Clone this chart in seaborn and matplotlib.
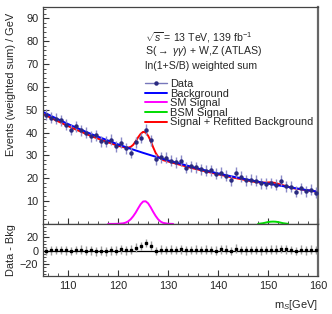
import numpy as np
import matplotlib
matplotlib.use("Agg")
import matplotlib.pyplot as plt
from matplotlib.ticker import MultipleLocator
from matplotlib.lines import Line2D
import seaborn as sns

sns.set_style("ticks")
plt.rcParams['font.family'] = ['Liberation Sans', 'DejaVu Sans']
plt.rcParams['mathtext.fontset'] = 'custom'
plt.rcParams['mathtext.rm'] = 'Liberation Sans'
plt.rcParams['mathtext.it'] = 'Liberation Sans:italic'

# ------------------------------------------------------------
# data
# ------------------------------------------------------------
mass = [105.5, 106.5, 107.5, 108.5, 109.5, 110.5, 111.5, 112.5, 113.5, 114.5,
        115.5, 116.5, 117.5, 118.5, 119.5, 120.5, 121.5, 122.5, 123.5, 124.5,
        125.5, 126.5, 127.5, 128.5, 129.5, 130.5, 131.5, 132.5, 133.5, 134.5,
        135.5, 136.5, 137.5, 138.5, 139.5, 140.5, 141.5, 142.5, 143.5, 144.5,
        145.5, 146.5, 147.5, 148.5, 149.5, 150.5, 151.5, 152.5, 153.5, 154.5,
        155.5, 156.5, 157.5, 158.5, 159.5]
events = [47.8, 46.5, 46.0, 45.3, 43.5, 41.3, 42.8, 41.0, 39.8, 38.3,
          38.9, 36.2, 36.0, 36.9, 34.0, 35.5, 33.2, 31.2, 35.8, 37.6,
          41.2, 36.6, 28.3, 29.2, 29.0, 27.6, 26.9, 27.6, 24.6, 25.2,
          24.8, 24.0, 23.2, 23.5, 22.0, 22.4, 21.0, 19.2, 22.4, 20.6,
          19.0, 19.3, 18.9, 17.7, 17.6, 17.9, 17.2, 18.9, 16.5, 16.3,
          14.1, 15.6, 14.3, 15.0, 13.6]
residual = [-0.5, 0.5, 0.8, 1.0, 0.3, -0.5, 0.8, 1.2, -0.3, 0.6,
            -1.0, -0.2, -1.2, 0.5, 0.0, 1.8, 0.6, 1.5, 4.5, 7.0,
            11.5, 7.5, -0.5, 1.2, 1.0, 1.5, 0.8, 1.8, 0.2, 1.0,
            1.2, 0.8, 1.5, 1.0, -0.3, 2.0, 1.5, -0.5, 3.0, 1.0,
            0.5, 1.0, 0.8, 0.5, 0.8, 1.2, 1.5, 2.5, 1.8, 1.0,
            -0.5, 1.2, 0.5, 1.5, 0.8]
events_err = 2.4
residual_err = 6.5

bkg_mass = [105, 107.5, 110, 112.5, 115, 117.5, 120, 122.5, 125, 127.5, 130, 132.5,
            135, 137.5, 140, 142.5, 145, 147.5, 150, 152.5, 155, 157.5, 160]
bkg_val = [49.0, 46.3, 43.7, 41.3, 39.0, 36.9, 34.8, 32.9, 31.1, 29.4, 27.8, 26.3,
           24.8, 23.4, 22.1, 20.9, 19.8, 18.7, 17.6, 16.7, 15.8, 14.9, 14.1]

fit_mass = [105, 107.5, 110, 112.5, 115, 117.5, 120, 121, 122, 122.5, 123, 123.5,
            124, 124.5, 125, 125.5, 126, 126.5, 127, 127.5, 128, 129, 130, 132.5,
            135, 137.5, 140, 142.5, 145, 147.5, 148.5, 149.5, 150.5, 151.5, 152.5,
            153.5, 155, 157.5, 160]
fit_val = [48.1, 45.4, 42.8, 40.4, 38.1, 36.1, 34.2, 33.6, 33.4, 33.7, 34.6, 36.1,
           37.9, 39.4, 40.3, 40.0, 38.6, 36.4, 33.6, 31.1, 29.4, 27.9, 27.3, 25.8,
           24.3, 23.0, 21.7, 20.5, 19.4, 18.3, 18.1, 18.1, 18.2, 17.9, 17.2,
           16.6, 15.6, 14.8, 14.0]

sm_mass = [118, 119, 120, 121, 121.5, 122, 122.5, 123, 123.5, 124, 124.5, 125,
           125.5, 126, 126.5, 127, 127.5, 128, 128.5, 129, 130, 131]
sm_val = [0.0, 0.0, 0.05, 0.25, 0.55, 1.1, 2.0, 3.3, 4.9, 6.8, 8.6, 9.8,
          9.9, 9.0, 7.3, 5.3, 3.5, 2.0, 1.0, 0.45, 0.05, 0.0]

bsm_mass = [148, 149, 150, 150.5, 151, 151.5, 152, 153, 154]
bsm_val = [0.0, 0.3, 0.8, 0.95, 1.0, 0.95, 0.8, 0.3, 0.0]

FS = 7.9

# ------------------------------------------------------------
# figure
# ------------------------------------------------------------
fig = plt.figure(figsize=(3.32, 3.14), dpi=100)
ax = fig.add_axes([0.13, 0.287, 0.828, 0.691])
ax2 = fig.add_axes([0.13, 0.121, 0.828, 0.166], sharex=ax)

sns.lineplot(x=fit_mass, y=fit_val, ax=ax, color="#ff0000", lw=1.4)
sns.lineplot(x=bkg_mass, y=bkg_val, ax=ax, color="#0000ff", lw=1.4)
sns.lineplot(x=sm_mass, y=sm_val, ax=ax, color="#ff00ff", lw=1.4)
sns.lineplot(x=bsm_mass, y=bsm_val, ax=ax, color="#00dd00", lw=1.4)
ax.errorbar(mass, events, yerr=events_err, fmt="o", ms=2.2, color="#2a2a80",
            ecolor="#8a8ac8", elinewidth=1.0, capsize=0, zorder=5)

ax.set_xlim(105, 160)
ax.set_ylim(0, 95)
ax.set_yticks([10, 20, 30, 40, 50, 60, 70, 80, 90])
ax.yaxis.set_minor_locator(MultipleLocator(2))
ax.xaxis.set_major_locator(MultipleLocator(10))
ax.xaxis.set_minor_locator(MultipleLocator(2))
ax.tick_params(axis="x", labelbottom=False)
ax.set_ylabel("Events (weighted sum) / GeV", loc="top", fontsize=FS)

ax.text(0.37, 0.858, r"$\sqrt{s}$ = 13 TeV, 139 fb$^{-1}$", transform=ax.transAxes,
        fontsize=7.6, va="center")
ax.text(0.37, 0.795, r"S($\rightarrow$ $\gamma\gamma$) + W,Z (ATLAS)", transform=ax.transAxes,
        fontsize=7.6, va="center")
ax.text(0.37, 0.727, "ln(1+S/B) weighted sum", transform=ax.transAxes,
        fontsize=7.6, va="center")

handles = [
    Line2D([], [], color="#7777bb", marker="o", ms=2.2, mfc="#2a2a80", mec="#2a2a80", lw=1.0),
    Line2D([], [], color="#0000ff", lw=1.4),
    Line2D([], [], color="#ff00ff", lw=1.4),
    Line2D([], [], color="#00dd00", lw=1.4),
    Line2D([], [], color="#ff0000", lw=1.4),
]
labels = ["Data", "Background", "SM Signal", "BSM Signal", "Signal + Refitted Background"]
ax.legend(handles, labels, loc="upper left", bbox_to_anchor=(0.365, 0.672),
          frameon=False, fontsize=FS, labelspacing=-0.04, handlelength=2.0,
          handletextpad=0.3, borderpad=0.1, borderaxespad=0)

# lower panel
ax2.axhline(0, color="black", lw=0.9)
ax2.errorbar(mass, residual, yerr=residual_err, fmt="s", ms=1.8, color="black",
             ecolor="#9a9a9a", elinewidth=1.0, capsize=0, zorder=5)
ax2.set_ylim(-38, 40)
ax2.set_yticks([-20, 0, 20])
ax2.yaxis.set_minor_locator(MultipleLocator(5))
ax2.set_ylabel("Data - Bkg", fontsize=FS)
ax2.set_xlabel(r"m$_S$[GeV]", loc="right", fontsize=FS, labelpad=5)

for a in (ax, ax2):
    a.tick_params(which="both", direction="in", labelsize=FS, color="#333333")
    a.tick_params(which="major", length=4)
    a.tick_params(which="minor", length=2)
    for s in a.spines.values():
        s.set_color("#444444")
        s.set_linewidth(0.9)
    a.spines["right"].set_linewidth(1.6)
    a.spines["right"].set_color("#666666")
    a.yaxis.set_label_coords(-0.10, 0.975 if a is ax else 0.5)

fig.savefig("out.png", dpi=100)
